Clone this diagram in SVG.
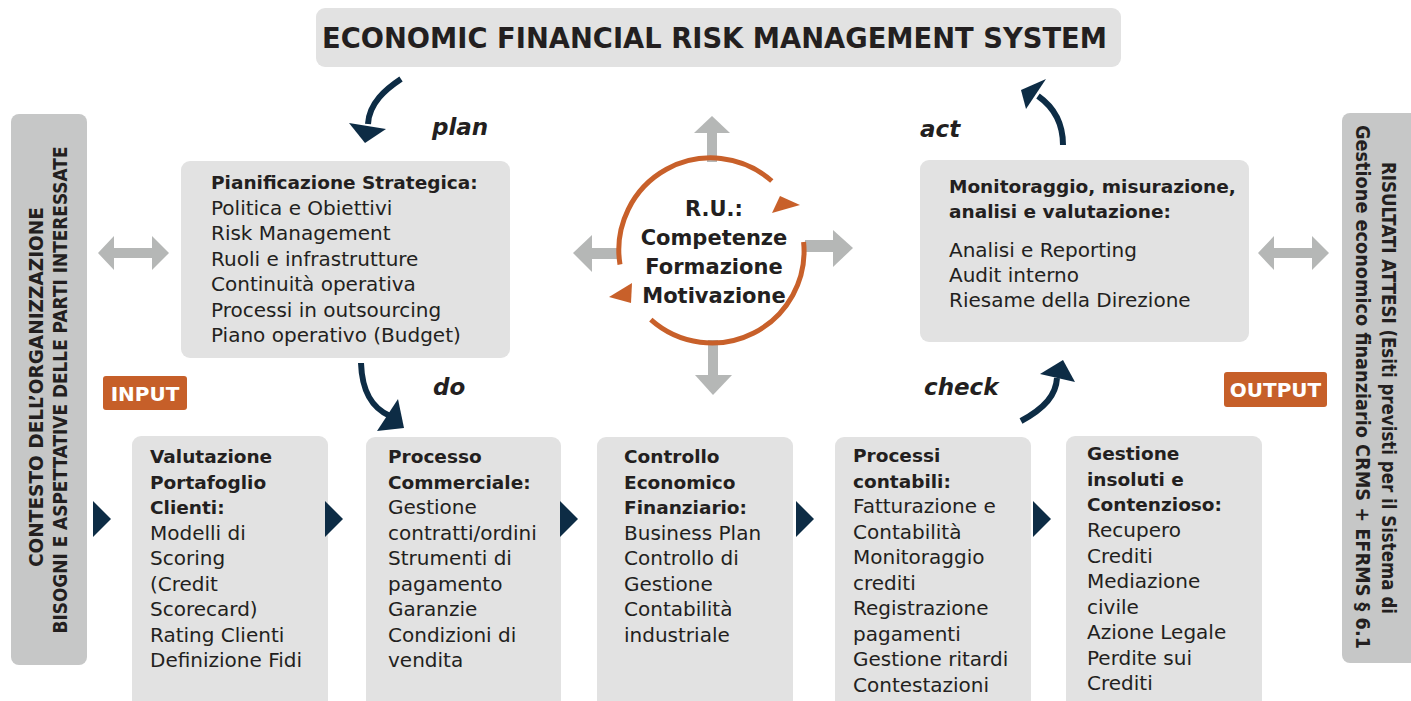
<svg xmlns="http://www.w3.org/2000/svg" width="1411" height="701" viewBox="0 0 1411 701">
<style>
.box{fill:#e2e2e2}
.side{fill:#c6c7c7}
.tag{fill:#c65f29}
.b{font-family:"DejaVu Sans","Liberation Sans",sans-serif;font-weight:bold;font-size:18.5px;fill:#231f20}
.t{font-family:"DejaVu Sans","Liberation Sans",sans-serif;font-size:20px;fill:#231f20}
.it{font-family:"DejaVu Sans","Liberation Sans",sans-serif;font-weight:bold;font-style:italic;font-size:23px;fill:#231f20}
.title{font-family:"DejaVu Sans","Liberation Sans",sans-serif;font-weight:bold;font-size:29px;fill:#231f20}
.sidet{font-family:"DejaVu Sans","Liberation Sans",sans-serif;font-weight:bold;font-size:20px;fill:#231f20}
.sidet2{font-family:"DejaVu Sans","Liberation Sans",sans-serif;font-weight:bold;font-size:19px;fill:#231f20}
.tagt{font-family:"DejaVu Sans","Liberation Sans",sans-serif;font-weight:bold;font-size:20px;fill:#ffffff}
.ru{font-family:"DejaVu Sans","Liberation Sans",sans-serif;font-weight:bold;font-size:21px;fill:#231f20}
.navy{fill:none;stroke:#0d2c45;stroke-width:6}
.navyf{fill:#0d2c45}
.gray{fill:#b5b7b6}
.ring{fill:none;stroke:#c8602a;stroke-width:5}
.orf{fill:#c8602a}
</style>

<g id="title">
<rect class="box" x="316" y="8" width="805" height="59" rx="9"/>
<text class="title" x="714.5" y="48" text-anchor="middle" textLength="785" lengthAdjust="spacingAndGlyphs">ECONOMIC FINANCIAL RISK MANAGEMENT SYSTEM</text>
</g>

<g id="contesto">
<rect class="side" x="11" y="114" width="76" height="551" rx="8"/>
<text class="sidet" transform="translate(43,387) rotate(-90)" text-anchor="middle" textLength="360" lengthAdjust="spacingAndGlyphs">CONTESTO DELL’ORGANIZZAZIONE</text>
<text class="sidet" transform="translate(67,390) rotate(-90)" text-anchor="middle" textLength="487" lengthAdjust="spacingAndGlyphs">BISOGNI E ASPETTATIVE DELLE PARTI INTERESSATE</text>
</g>

<g id="risultati">
<path class="side" d="M1350,113 H1411 V663 H1350 A8,8 0 0 1 1342,655 V121 A8,8 0 0 1 1350,113 Z"/>
<text class="sidet2" transform="translate(1382,388) rotate(90)" text-anchor="middle" textLength="452" lengthAdjust="spacingAndGlyphs">RISULTATI ATTESI (Esiti previsti per il Sistema di</text>
<text class="sidet2" transform="translate(1356,387) rotate(90)" text-anchor="middle" textLength="524" lengthAdjust="spacingAndGlyphs">Gestione economico finanziario CRMS + EFRMS § 6.1</text>
</g>

<g id="input">
<rect class="tag" x="103" y="376" width="84" height="34" rx="3"/>
<text class="tagt" x="145" y="401" text-anchor="middle">INPUT</text>
</g>

<g id="output">
<rect class="tag" x="1224" y="372" width="103" height="35" rx="3"/>
<text class="tagt" x="1275.5" y="397" text-anchor="middle">OUTPUT</text>
</g>

<g id="pianificazione">
<rect class="box" x="181" y="161" width="329" height="197" rx="9"/>
<text class="b" x="211" y="189">Pianificazione Strategica:</text>
<text class="t" x="211" y="214.5">Politica e Obiettivi</text>
<text class="t" x="211" y="240">Risk Management</text>
<text class="t" x="211" y="265.5">Ruoli e infrastrutture</text>
<text class="t" x="211" y="291">Continuità operativa</text>
<text class="t" x="211" y="316.5">Processi in outsourcing</text>
<text class="t" x="211" y="342">Piano operativo (Budget)</text>
</g>

<g id="monitoraggio">
<rect class="box" x="920" y="160" width="329" height="182" rx="9"/>
<text class="b" x="949" y="193">Monitoraggio, misurazione,</text>
<text class="b" x="949" y="218">analisi e valutazione:</text>
<text class="t" x="949" y="256.5">Analisi e Reporting</text>
<text class="t" x="949" y="282">Audit interno</text>
<text class="t" x="949" y="307">Riesame della Direzione</text>
</g>

<g id="ru">
<text class="ru" x="714" y="216" text-anchor="middle">R.U.:</text>
<text class="ru" x="714" y="245" text-anchor="middle">Competenze</text>
<text class="ru" x="714" y="274" text-anchor="middle">Formazione</text>
<text class="ru" x="714" y="303" text-anchor="middle">Motivazione</text>
</g>

<g id="valutazione">
<rect class="box" x="132" y="436" width="196" height="290" rx="9"/>
<text class="b" x="150" y="463">Valutazione</text>
<text class="b" x="150" y="488.5">Portafoglio</text>
<text class="b" x="150" y="514">Clienti:</text>
<text class="t" x="150" y="539.5">Modelli di</text>
<text class="t" x="150" y="565">Scoring</text>
<text class="t" x="150" y="590.5">(Credit</text>
<text class="t" x="150" y="616">Scorecard)</text>
<text class="t" x="150" y="641.5">Rating Clienti</text>
<text class="t" x="150" y="667">Definizione Fidi</text>
</g>

<g id="commerciale">
<rect class="box" x="366" y="437" width="195" height="290" rx="9"/>
<text class="b" x="388" y="463">Processo</text>
<text class="b" x="388" y="488.5">Commerciale:</text>
<text class="t" x="388" y="514">Gestione</text>
<text class="t" x="388" y="539.5">contratti/ordini</text>
<text class="t" x="388" y="565">Strumenti di</text>
<text class="t" x="388" y="590.5">pagamento</text>
<text class="t" x="388" y="616">Garanzie</text>
<text class="t" x="388" y="641.5">Condizioni di</text>
<text class="t" x="388" y="667">vendita</text>
</g>

<g id="controllo">
<rect class="box" x="597" y="437" width="196" height="290" rx="9"/>
<text class="b" x="624" y="463">Controllo</text>
<text class="b" x="624" y="488.5">Economico</text>
<text class="b" x="624" y="514">Finanziario:</text>
<text class="t" x="624" y="539.5">Business Plan</text>
<text class="t" x="624" y="565">Controllo di</text>
<text class="t" x="624" y="590.5">Gestione</text>
<text class="t" x="624" y="616">Contabilità</text>
<text class="t" x="624" y="641.5">industriale</text>
</g>

<g id="contabili">
<rect class="box" x="835" y="437" width="196" height="290" rx="9"/>
<text class="b" x="853" y="462">Processi</text>
<text class="b" x="853" y="487.5">contabili:</text>
<text class="t" x="853" y="513">Fatturazione e</text>
<text class="t" x="853" y="538.5">Contabilità</text>
<text class="t" x="853" y="564">Monitoraggio</text>
<text class="t" x="853" y="589.5">crediti</text>
<text class="t" x="853" y="615">Registrazione</text>
<text class="t" x="853" y="640.5">pagamenti</text>
<text class="t" x="853" y="666">Gestione ritardi</text>
<text class="t" x="853" y="691.5">Contestazioni</text>
</g>

<g id="insoluti">
<rect class="box" x="1066" y="436" width="196" height="290" rx="9"/>
<text class="b" x="1087" y="460">Gestione</text>
<text class="b" x="1087" y="485.5">insoluti e</text>
<text class="b" x="1087" y="511">Contenzioso:</text>
<text class="t" x="1087" y="537">Recupero</text>
<text class="t" x="1087" y="562.5">Crediti</text>
<text class="t" x="1087" y="588">Mediazione</text>
<text class="t" x="1087" y="613.5">civile</text>
<text class="t" x="1087" y="639">Azione Legale</text>
<text class="t" x="1087" y="664.5">Perdite sui</text>
<text class="t" x="1087" y="690">Crediti</text>
</g>

<g id="pdca-labels">
<text class="it" x="432" y="135">plan</text>
<text class="it" x="433" y="395">do</text>
<text class="it" x="924" y="395">check</text>
<text class="it" x="920" y="137">act</text>
</g>

<g id="connectors">
<path class="navy" d="M401,79 C386,89 369,103 368,124"/>
<polygon class="navyf" points="349,123 386,129 365,143"/>
<path class="navy" d="M361,363 C362,392 372,408 390,416"/>
<polygon class="navyf" points="398,399 404,428 377,431"/>
<path class="navy" d="M1021,421 C1045,408 1056,395 1057,378"/>
<polygon class="navyf" points="1040,374 1063,360 1075,382"/>
<path class="navy" d="M1063,145 C1063,125 1055,108 1038,96"/>
<polygon class="navyf" points="1046,79 1021,90 1026,109"/>

<polygon class="gray" points="98,253 114,236 114,248 152,248 152,236 169,253 152,270 152,258 114,258 114,270"/>
<polygon class="gray" points="1258,253 1274,236 1274,248 1312,248 1312,236 1329,253 1312,270 1312,258 1274,258 1274,270"/>

<rect class="gray" x="707" y="132" width="10" height="30"/>
<polygon class="gray" points="694,133 730,133 712,116"/>
<rect class="gray" x="708" y="340" width="10" height="36"/>
<polygon class="gray" points="695,375 732,375 713,395"/>
<rect class="gray" x="591" y="248" width="28" height="11"/>
<polygon class="gray" points="592,235 592,272 573,253"/>
<rect class="gray" x="805" y="240" width="29" height="12"/>
<polygon class="gray" points="833,230 833,267 853,248"/>

<path class="ring" d="M620,264.5 A92,92 0 0 1 771.8,181"/>
<path class="ring" d="M803.6,242 A92,92 0 0 1 650.8,319.7"/>
<polygon class="orf" points="780,196 800,205 772,213"/>
<polygon class="orf" points="632,283 609,297 631,303"/>

<polygon class="navyf" points="93,501 111,519 93,537"/>
<polygon class="navyf" points="325,501 343,519 325,537"/>
<polygon class="navyf" points="560,501 578,519 560,537"/>
<polygon class="navyf" points="796,501 814,519 796,537"/>
<polygon class="navyf" points="1033,501 1051,519 1033,537"/>
</g>
</svg>
